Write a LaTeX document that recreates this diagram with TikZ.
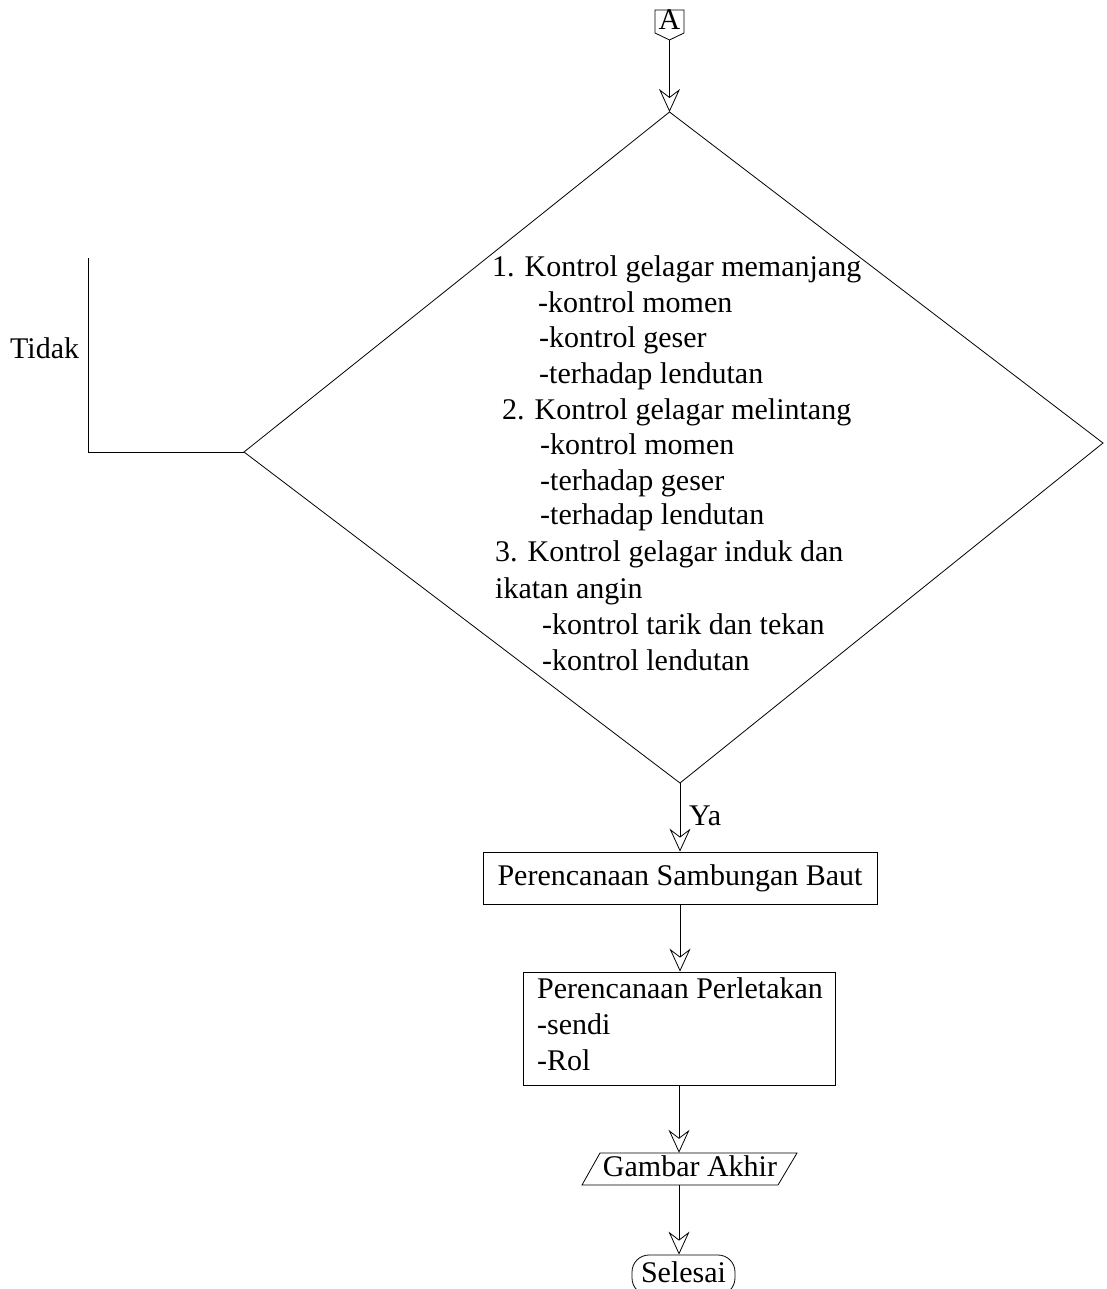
\documentclass[tikz,border=0pt]{standalone}
\usepackage{fontspec}
\setmainfont{Liberation Serif}
\usetikzlibrary{arrows.meta}
\begin{document}
\begin{tikzpicture}[x=1pt,y=-1pt,
  txt/.style={font=\fontsize{30}{36}\selectfont, inner sep=0pt, text height=21pt, text depth=7pt},
  ln/.style={txt, anchor=base west},
  shp/.style={draw=black, line width=0.8pt},
  arr/.style={line width=0.8pt, -{Stealth[open, length=23pt, width=21pt, inset=8pt]}},
  plain/.style={line width=0.8pt}]
\useasboundingbox (0,0) rectangle (1106,1289);

% off-page connector A
\node[txt] (A) at (669.5,23) {A};
\draw[shp] (655,10) -- (684,10) -- (684,33) -- (669.5,40) -- (655,33) -- cycle;
\coordinate (Abot) at (669.5,40);

% decision diamond
\coordinate (Dtop) at (669.5,112);
\coordinate (Dright) at (1103,443);
\coordinate (Dbot) at (680,783);
\coordinate (Dleft) at (244,452);
\draw[shp] (Dtop) -- (Dright) -- (Dbot) -- (Dleft) -- cycle;
\draw[arr] (Abot) -- (Dtop);

\node[ln] (l1) at (492,276) {1. Kontrol gelagar memanjang};
\node[ln] (l2) at (538,312) {-kontrol momen};
\node[ln] (l3) at (539,347) {-kontrol geser};
\node[ln] (l4) at (539,383) {-terhadap lendutan};
\node[ln] (l5) at (502,419) {2. Kontrol gelagar melintang};
\node[ln] (l6) at (540,454) {-kontrol momen};
\node[ln] (l7) at (540,490) {-terhadap geser};
\node[ln] (l8) at (540,524) {-terhadap lendutan};
\node[ln] (l9) at (495,561) {3. Kontrol gelagar induk dan};
\node[ln] (l10) at (495,598) {ikatan angin};
\node[ln] (l11) at (542,634) {-kontrol tarik dan tekan};
\node[ln] (l12) at (542,670) {-kontrol lendutan};

% Tidak branch
\coordinate (Ttop) at (88,258);
\draw[plain] (Dleft) -| (Ttop);
\node[ln] (tidak) at (10,358) {Tidak};

% Ya branch
\node[shp, txt, minimum width=394pt, minimum height=52pt] (B1) at (680,878) {Perencanaan Sambungan Baut};
\draw[arr] (Dbot) -- (Dbot |- B1.north);
\node[ln] (ya) at (689,825) {Ya};

% box 2
\node[shp, minimum width=312pt, minimum height=113pt, inner sep=0pt] (B2) at (679,1028.5) {};
\node[ln] (p1) at (537,998) {Perencanaan Perletakan};
\node[ln] (p2) at (537,1034) {-sendi};
\node[ln] (p3) at (537,1070) {-Rol};
\draw[arr] (B1.south) -- (B1.south |- B2.north);

% output parallelogram
\node[txt, minimum height=32pt] (G) at (690,1169) {Gambar Akhir};
\draw[shp] (600,1153) -- (797,1153) -- (778,1185) -- (582,1185) -- cycle;
\draw[arr] (B2.south) -- (B2.south |- G.north);

% terminator
\node[shp, txt, rounded corners=17pt, minimum width=103pt, minimum height=40pt] (S) at (683.5,1275) {Selesai};
\draw[arr] (B2.south |- G.south) -- (B2.south |- S.north);
\end{tikzpicture}
\end{document}
